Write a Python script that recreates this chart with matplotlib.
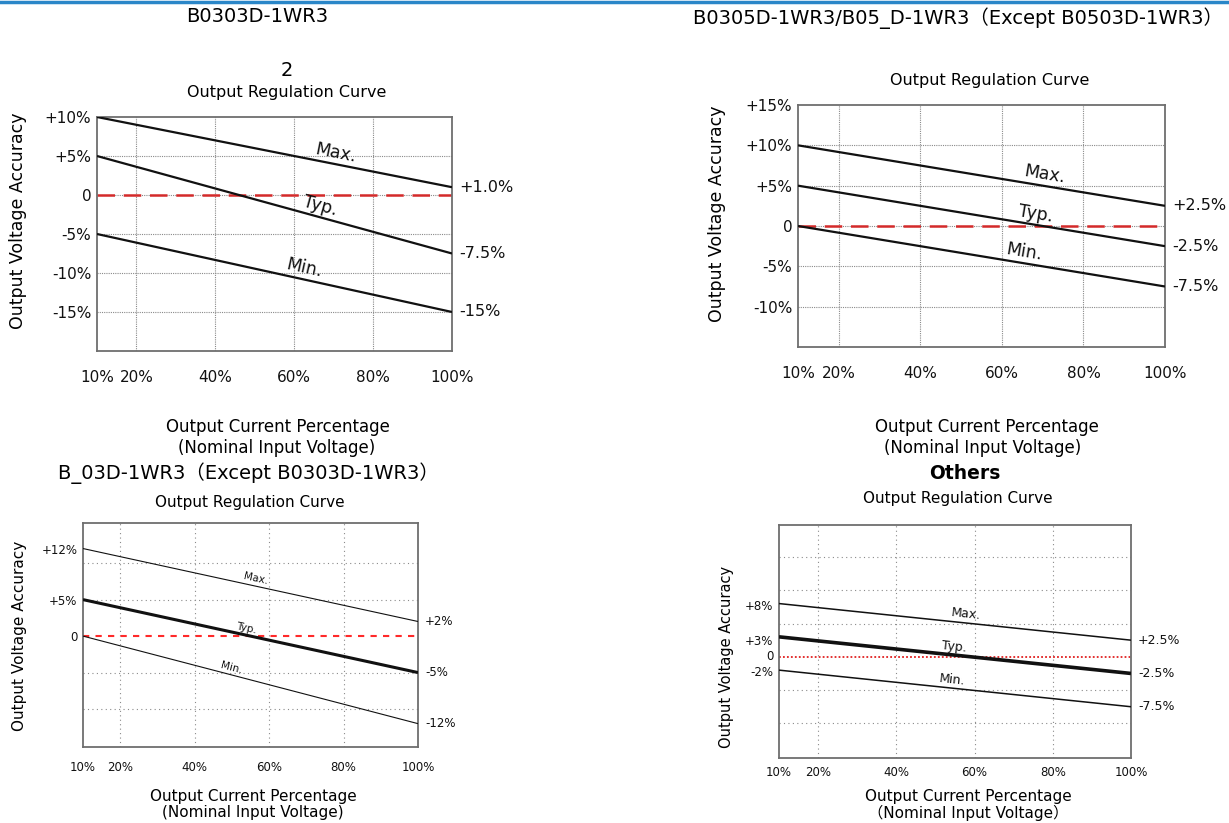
import math

import matplotlib
matplotlib.use("Agg")
import matplotlib.pyplot as plt
from matplotlib.lines import Line2D

W, H = 1229, 823
plt.rcParams["font.family"] = ["DejaVu Sans", "Noto Sans CJK SC"]

# shared x axis (output current, %)
x_load = [10, 100]
x_ticks = [10, 20, 40, 60, 80, 100]
x_tick_labels = ["10%", "20%", "40%", "60%", "80%", "100%"]
x_grid = [20, 40, 60, 80]

# B0303D-1WR3
tl_max = [10, 1.0]
tl_typ = [5, -7.5]
tl_min = [-5, -15]
tl_yticks = [10, 5, 0, -5, -10, -15]
tl_ylabels = ["+10%", "+5%", "0", "-5%", "-10%", "-15%"]
tl_end_labels = ["+1.0%", "-7.5%", "-15%"]

# B0305D-1WR3/B05_D-1WR3
tr_max = [10, 2.5]
tr_typ = [5, -2.5]
tr_min = [0, -7.5]
tr_yticks = [15, 10, 5, 0, -5, -10]
tr_ylabels = ["+15%", "+10%", "+5%", "0", "-5%", "-10%"]
tr_end_labels = ["+2.5%", "-2.5%", "-7.5%"]

# B_03D-1WR3
bl_max = [12, 2]
bl_typ = [5, -5]
bl_min = [0, -12]
bl_yticks = [12, 5, 0]
bl_ylabels = ["+12%", "+5%", "0"]
bl_end_labels = ["+2%", "-5%", "-12%"]

# Others
br_max = [8, 2.5]
br_typ = [3, -2.5]
br_min = [-2, -7.5]
br_yticks = [7.8, 2.6, 0.3, -2.2]
br_ylabels = ["+8%", "+3%", "0", "-2%"]
br_end_labels = ["+2.5%", "-2.5%", "-7.5%"]


def px_rect(x0, y0, x1, y1):
    return [x0 / W, 1 - y1 / H, (x1 - x0) / W, (y1 - y0) / H]


def ftext(x, y, s, **kw):
    kw.setdefault("ha", "center")
    kw.setdefault("va", "center")
    fig.text(x / W, 1 - y / H, s, **kw)


def panel(rect, ylim, yticks, ylabels, ygrid, curves, names, name_x, end_labels,
          widths, zero_style, grid_style, fs_tick, fs_name, fs_end, xpad):
    ax = fig.add_axes(px_rect(*rect))
    ax.set_xlim(10, 100)
    ax.set_ylim(*ylim)
    for gx in x_grid:
        ax.axvline(gx, color="#8a8a8a", lw=0.8, ls=grid_style, zorder=1)
    for gy in ygrid:
        ax.axhline(gy, color="#8a8a8a", lw=0.8, ls=grid_style, zorder=1)
    ax.axhline(0, zorder=2, **zero_style)
    for vals, lw, nm, nx, lab in zip(curves, widths, names, name_x, end_labels):
        ax.plot(x_load, vals, color="#111111", lw=lw, zorder=3, solid_capstyle="butt")
        p0 = ax.transData.transform((x_load[0], vals[0]))
        p1 = ax.transData.transform((x_load[1], vals[1]))
        ang = math.degrees(math.atan2(p1[1] - p0[1], p1[0] - p0[0]))
        ny = vals[0] + (vals[1] - vals[0]) * (nx - x_load[0]) / (x_load[1] - x_load[0])
        ax.annotate(nm, xy=(nx, ny), xytext=(0, 1.5), textcoords="offset points",
                    rotation=ang, rotation_mode="anchor", ha="center", va="bottom",
                    fontsize=fs_name, color="#111111")
        ax.annotate(lab, xy=(100, vals[1]), xytext=(5, 0), textcoords="offset points",
                    ha="left", va="center", fontsize=fs_end, color="#111111",
                    annotation_clip=False)
    ax.set_xticks(x_ticks)
    ax.set_xticklabels(x_tick_labels, fontsize=fs_tick)
    ax.set_yticks(yticks)
    ax.set_yticklabels(ylabels, fontsize=fs_tick)
    ax.tick_params(length=0, colors="#111111")
    ax.tick_params(axis="x", pad=xpad)
    ax.tick_params(axis="y", pad=4)
    for sp in ax.spines.values():
        sp.set_color("#6e6e6e")
        sp.set_linewidth(1.3)
    return ax


fig = plt.figure(figsize=(W / 100, H / 100), dpi=100)
fig.add_artist(Line2D([0, 1], [1 - 1.5 / H, 1 - 1.5 / H], color="#2a86c8", lw=2.5))

names = ["Max.", "Typ.", "Min."]
red_long = dict(color="#d42a2a", lw=1.8, ls=(0, (7, 3.5)))

panel((97, 117, 452, 351), (-20, 10), tl_yticks, tl_ylabels, [5, 0, -5, -10, -15],
      [tl_max, tl_typ, tl_min], names, [70, 66, 62], tl_end_labels,
      [1.6, 1.6, 1.6], red_long, (0, (1, 1)), 11, 12.5, 11.5, 14)
panel((798, 105, 1165, 347), (-15, 15), tr_yticks, tr_ylabels, [10, 5, 0, -5, -10],
      [tr_max, tr_typ, tr_min], names, [70, 68, 65], tr_end_labels,
      [1.6, 1.6, 1.6], red_long, (0, (1, 1)), 11, 12.5, 11.5, 14)
panel((83, 523, 418, 747), (-15.2, 15.5), bl_yticks, bl_ylabels, [10, 5, -5, -10],
      [bl_max, bl_typ, bl_min], names, [56, 53.5, 49.5], bl_end_labels,
      [0.8, 2.2, 0.8], dict(color="#ff2a2a", lw=1.5, ls=(0, (3, 3))), (0, (1, 3)),
      8.5, 7.5, 8.5, 10)
panel((779, 525, 1131, 758), (-15.2, 19.8), br_yticks, br_ylabels, [15, 10, 5, -5, -10],
      [br_max, br_typ, br_min], names, [57.6, 54.5, 54], br_end_labels,
      [1.1, 2.6, 1.1], dict(color="#e02020", lw=1.3, ls=(0, (1, 1.2))), (0, (1, 3)),
      8.5, 9, 9, 6)

# titles and axis captions
ftext(257, 16, "B0303D-1WR3", fontsize=14)
ftext(287, 70, "2", fontsize=14)
ftext(287, 93, "Output Regulation Curve", fontsize=11.5)
ftext(278, 427, "Output Current Percentage", fontsize=12)
ftext(277, 448, "(Nominal Input Voltage)", fontsize=12)
ftext(18, 221, "Output Voltage Accuracy", fontsize=12.5, rotation=90)

ftext(958, 18, "B0305D-1WR3/B05_D-1WR3（Except B0503D-1WR3）", fontsize=14)
ftext(990, 80, "Output Regulation Curve", fontsize=11.5)
ftext(987, 427, "Output Current Percentage", fontsize=12)
ftext(983, 448, "(Nominal Input Voltage)", fontsize=12)
ftext(717, 214, "Output Voltage Accuracy", fontsize=12.5, rotation=90)

ftext(248, 473, "B_03D-1WR3（Except B0303D-1WR3）", fontsize=14)
ftext(250, 502, "Output Regulation Curve", fontsize=11)
ftext(253, 796, "Output Current Percentage", fontsize=11)
ftext(253, 813, "(Nominal Input Voltage)", fontsize=11)
ftext(20, 636, "Output Voltage Accuracy", fontsize=11, rotation=90)

ftext(965, 474, "Others", fontsize=13.5, fontweight="bold")
ftext(958, 498, "Output Regulation Curve", fontsize=11)
ftext(968, 797, "Output Current Percentage", fontsize=11)
ftext(968, 813, "（Nominal Input Voltage）", fontsize=11)
ftext(727, 657, "Output Voltage Accuracy", fontsize=10.5, rotation=90)

fig.savefig("out.png", dpi=100, facecolor="white")
